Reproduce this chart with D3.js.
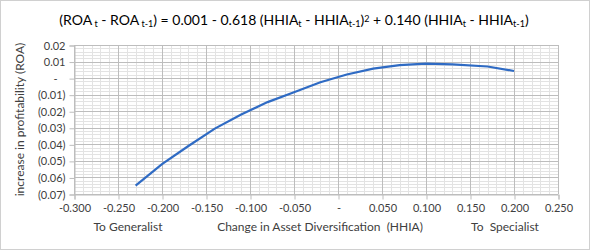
<!DOCTYPE html>
<html>
<head>
<meta charset="utf-8">
<title>ROA vs HHIA</title>
<style>
body { margin: 0; background: #fff; }
text { font-family: "Lato", "Liberation Sans", sans-serif; fill: #404040; }
</style>
<script src="https://d3js.org/d3.v7.min.js"></script>
</head>
<body>
<svg id="chart" width="591" height="252"></svg>
<script>
// curve
const hhia = [-0.23, -0.20, -0.17, -0.14, -0.11, -0.08, -0.05, -0.02, 0.01, 0.04, 0.07, 0.10, 0.13, 0.17, 0.20];
const roa = [-0.065, -0.052, -0.041, -0.0305, -0.022, -0.0145, -0.0085, -0.0025, 0.0022, 0.0057, 0.0078, 0.0088, 0.0083, 0.0070, 0.0043];
const xTicks = [-0.30, -0.25, -0.20, -0.15, -0.10, -0.05, 0, 0.05, 0.10, 0.15, 0.20, 0.25];
const yTicks = [0.02, 0.01, 0, -0.01, -0.02, -0.03, -0.04, -0.05, -0.06, -0.07];

const svg = d3.select("#chart");
const W = 591, H = 252;
const L = 74, R = 558, T = 45, B = 194;

const x = d3.scaleLinear().domain([-0.30, 0.25]).range([L, R]);
const y = d3.scaleLinear().domain([-0.07, 0.02]).range([B, T]);

// outer frame
svg.append("rect")
   .attr("x", 0.5).attr("y", 0.5)
   .attr("width", W - 2).attr("height", H - 3)
   .attr("fill", "#fff").attr("stroke", "#d0d0d0");

// minor grid
const xMinor = d3.range(-0.30, 0.2501, 0.01);
const yMinor = d3.range(-0.07, 0.0201, 0.002);
svg.append("g").selectAll("line").data(xMinor).join("line")
   .attr("x1", d => Math.round(x(d)) + 0.5).attr("x2", d => Math.round(x(d)) + 0.5)
   .attr("y1", T).attr("y2", B)
   .attr("stroke", "#e3e3e3");
svg.append("g").selectAll("line").data(yMinor).join("line")
   .attr("y1", d => Math.round(y(d)) + 0.5).attr("y2", d => Math.round(y(d)) + 0.5)
   .attr("x1", L).attr("x2", R)
   .attr("stroke", "#e3e3e3");

// major grid
svg.append("g").selectAll("line").data(xTicks).join("line")
   .attr("x1", d => Math.round(x(d)) + 0.5).attr("x2", d => Math.round(x(d)) + 0.5)
   .attr("y1", T).attr("y2", B)
   .attr("stroke", "#bdbdbd");
svg.append("g").selectAll("line").data(yTicks).join("line")
   .attr("y1", d => Math.round(y(d)) + 0.5).attr("y2", d => Math.round(y(d)) + 0.5)
   .attr("x1", L).attr("x2", R)
   .attr("stroke", "#bdbdbd");

// axes
const fmtX = d => Math.abs(d) < 1e-9 ? "-" : d3.format(".3f")(d).replace("−", "-");
const fmtY = d => Math.abs(d) < 1e-9 ? "-" : (d < 0 ? "(" + d3.format(".2f")(-d) + ")" : d3.format(".2f")(d));

const xAxis = d3.axisBottom(x).tickValues(xTicks).tickFormat(fmtX).tickSize(5).tickPadding(5);
const yAxis = d3.axisLeft(y).tickValues(yTicks).tickFormat(fmtY).tickSize(5).tickPadding(3);

const gx = svg.append("g").attr("transform", `translate(0.5, ${B + 0.5})`).call(xAxis);
const gy = svg.append("g").attr("transform", `translate(${L + 0.5}, 0.5)`).call(yAxis);
[gx, gy].forEach(g => {
    g.select(".domain").attr("stroke", "#bdbdbd");
    g.selectAll(".tick line").attr("stroke", "#bdbdbd");
    g.selectAll(".tick text").attr("fill", "#404040").style("font-size", "11px")
     .style("font-family", "Lato, 'Liberation Sans', sans-serif");
});
gy.selectAll(".tick text").attr("x", d => Math.abs(d) < 1e-9 ? -17 : -9);

// curve
const line = d3.line().x((d, i) => x(hhia[i])).y(d => y(d));
svg.append("path")
   .datum(roa)
   .attr("fill", "none")
   .attr("stroke", "#2f6bc4")
   .attr("stroke-width", 2.2)
   .attr("d", line);

// title with subscripts
const title = svg.append("text")
   .attr("x", 294).attr("y", 25)
   .attr("text-anchor", "middle")
   .style("font-size", "14px")
   .style("fill", "#000");
const parts = [
    ["(ROA", ""], [" t", "sub"], [" - ROA", ""], [" t-1", "sub"],
    [") = 0.001 - 0.618 (HHIA", ""], ["t", "sub"], [" - HHIA", ""], ["t-1", "sub"],
    [")", ""], ["2", "sup"], [" + 0.140 (HHIA", ""], ["t", "sub"],
    [" - HHIA", ""], ["t-1", "sub"], [")", ""]
];
parts.forEach(p => {
    const ts = title.append("tspan").text(p[0]).style("fill", "#000");
    if (p[1] === "sub") ts.attr("baseline-shift", "-25%").style("font-size", "9px");
    if (p[1] === "sup") ts.attr("baseline-shift", "35%").style("font-size", "9px");
});

// axis titles
svg.append("text")
   .attr("transform", `translate(24, ${(T + B) / 2}) rotate(-90)`)
   .attr("text-anchor", "middle")
   .style("font-size", "12px")
   .text("increase in profitability (ROA)");

const bottom = [
    ["To Generalist", 128],
    ["Change in Asset Diversification  (HHIA)", 320],
    ["To  Specialist", 505]
];
svg.append("g").selectAll("text").data(bottom).join("text")
   .attr("x", d => d[1]).attr("y", 231)
   .attr("text-anchor", "middle")
   .style("font-size", "12px")
   .attr("xml:space", "preserve")
   .text(d => d[0]);
</script>
</body>
</html>
